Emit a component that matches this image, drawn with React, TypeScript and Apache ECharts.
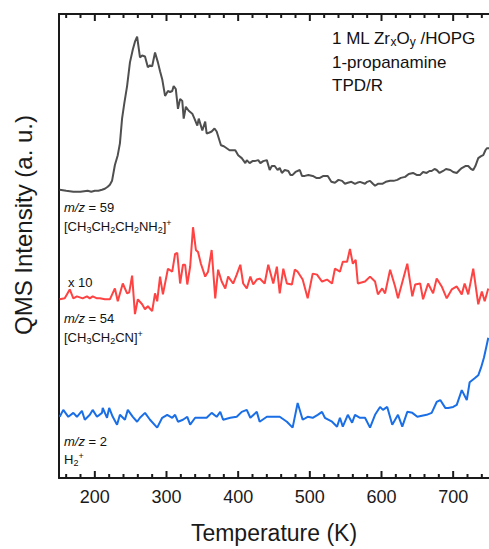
import React, { useEffect, useRef } from "react";
import * as echarts from "echarts";

const FONT = '"Liberation Sans", Arial, Helvetica, sans-serif';

// axis ticks (K)
const majorTicks = [200, 300, 400, 500, 600, 700];
const minorTicks = [160, 180, 220, 240, 260, 280, 320, 340, 360, 380, 420, 440, 460, 480, 520, 540, 560, 580, 620, 640, 660, 680, 720, 740];

// m/z = 59  [CH3CH2CH2NH2]+  (offset trace, arbitrary units)
const tempM59 = [151, 160, 170, 180, 190, 195, 200, 205, 210, 214, 218, 221, 224, 228, 232, 235, 238, 241, 245, 249, 253, 256, 259, 263, 266, 270, 274, 277, 280, 284, 288, 291, 294, 298, 302, 305, 308, 310, 313, 316, 319, 322, 324, 327, 331, 336, 339, 343, 345, 350, 354, 356, 360, 363, 367, 370, 376, 380, 384, 388, 391, 396, 400, 405, 410, 412, 416, 420, 423, 428, 431, 435, 440, 444, 447, 451, 455, 458, 461, 465, 470, 473, 476, 480, 486, 489, 493, 498, 504, 509, 514, 519, 525, 530, 535, 540, 545, 549, 553, 558, 563, 566, 570, 577, 580, 584, 588, 591, 595, 601, 606, 612, 617, 622, 627, 633, 638, 644, 649, 654, 658, 663, 667, 670, 674, 677, 681, 686, 690, 696, 700, 705, 709, 712, 717, 721, 725, 728, 731, 735, 739, 742, 745, 747, 750];
const intM59 = [292, 291, 290, 290, 291, 290, 291, 291, 292, 293, 295, 297, 301, 317, 327, 339, 364, 379, 397, 421, 434, 442, 447, 426, 428, 427, 416, 418, 417, 431, 421, 412, 404, 387, 392, 391, 392, 397, 394, 374, 384, 382, 364, 376, 372, 369, 364, 357, 364, 352, 361, 349, 350, 351, 354, 351, 337, 336, 334, 332, 332, 332, 327, 324, 319, 322, 319, 321, 321, 322, 319, 321, 322, 312, 316, 316, 312, 314, 309, 312, 311, 307, 307, 310, 312, 306, 306, 307, 306, 304, 304, 306, 306, 300, 299, 302, 301, 298, 299, 300, 298, 299, 300, 298, 300, 301, 298, 296, 298, 298, 300, 301, 301, 302, 304, 305, 308, 309, 307, 307, 310, 309, 311, 311, 313, 312, 309, 311, 313, 312, 310, 309, 312, 314, 316, 316, 313, 312, 316, 324, 326, 327, 332, 334, 334];

// m/z = 54  [CH3CH2CN]+  (x 10)
const tempM54 = [151, 158, 165, 170, 175, 179, 183, 189, 193, 197, 203, 207, 214, 221, 228, 232, 239, 245, 248, 252, 256, 260, 266, 270, 274, 280, 284, 287, 291, 295, 302, 308, 312, 315, 319, 323, 326, 329, 333, 337, 341, 344, 348, 354, 358, 363, 368, 372, 377, 382, 386, 393, 398, 403, 407, 412, 417, 421, 426, 430, 437, 442, 449, 454, 458, 463, 468, 475, 479, 483, 490, 497, 504, 510, 517, 524, 531, 535, 542, 546, 552, 556, 560, 564, 567, 577, 584, 591, 595, 601, 605, 612, 619, 623, 636, 643, 647, 654, 658, 665, 672, 677, 684, 691, 698, 705, 712, 716, 721, 728, 735, 740, 744, 749];
const intM54 = [181, 182, 191, 182, 184, 183, 182, 184, 182, 184, 182, 182, 181, 181, 192, 179, 197, 187, 188, 205, 166, 181, 176, 171, 174, 169, 187, 179, 204, 186, 212, 209, 227, 228, 197, 216, 216, 196, 214, 254, 231, 229, 217, 204, 209, 231, 182, 211, 199, 192, 204, 197, 206, 216, 197, 192, 204, 196, 201, 202, 197, 216, 197, 214, 187, 212, 197, 196, 211, 209, 201, 182, 207, 206, 199, 201, 197, 212, 209, 219, 219, 232, 217, 221, 197, 199, 204, 199, 186, 192, 187, 211, 194, 182, 217, 184, 196, 197, 181, 197, 187, 202, 194, 182, 191, 194, 186, 197, 186, 212, 176, 189, 179, 192];

// m/z = 2  H2+
const tempM2 = [151, 156, 163, 170, 175, 182, 186, 193, 197, 203, 210, 211, 217, 220, 225, 231, 235, 242, 246, 253, 259, 263, 270, 277, 287, 294, 301, 308, 312, 316, 323, 329, 333, 340, 350, 356, 363, 370, 375, 379, 389, 398, 405, 412, 417, 426, 430, 440, 449, 458, 468, 476, 483, 490, 497, 504, 511, 517, 521, 531, 538, 542, 546, 553, 559, 563, 570, 577, 584, 591, 598, 602, 608, 615, 623, 629, 636, 643, 650, 663, 670, 677, 682, 689, 693, 700, 705, 712, 719, 723, 730, 735, 739, 743, 746, 749];
const intM2 = [62, 69, 62, 66, 62, 68, 59, 64, 69, 62, 66, 71, 61, 71, 62, 54, 64, 59, 69, 62, 57, 61, 66, 59, 51, 61, 64, 61, 64, 57, 59, 62, 54, 61, 61, 61, 66, 62, 67, 59, 61, 62, 67, 69, 61, 67, 57, 62, 62, 62, 57, 51, 76, 59, 62, 61, 64, 67, 61, 57, 52, 61, 52, 64, 56, 64, 61, 61, 51, 64, 72, 69, 72, 54, 64, 52, 67, 66, 62, 64, 66, 77, 79, 71, 71, 72, 74, 89, 79, 97, 101, 104, 112, 122, 132, 142];

const Y_MIN = 0;
const Y_MAX = 470;

const pair = (xs: number[], ys: number[]) => xs.map((x, i) => [x, ys[i]]);

const C = "#111";
const AX = "#1a1a1a";
const richSmall: any = {
  n: { fontSize: 13, lineHeight: 16, fontFamily: FONT, fill: C },
  i: { fontSize: 13, lineHeight: 16, fontFamily: FONT, fill: C, fontStyle: "italic" },
  sb: { fontSize: 9, lineHeight: 9, fontFamily: FONT, fill: C, verticalAlign: "bottom" },
  sp: { fontSize: 9, lineHeight: 9, fontFamily: FONT, fill: C, verticalAlign: "top" },
};
const richBig: any = {
  n: { fontSize: 17, lineHeight: 20, fontFamily: FONT, fill: C },
  sb: { fontSize: 12, lineHeight: 12, fontFamily: FONT, fill: C, verticalAlign: "bottom" },
};

const txt = (x: number, y: number, text: string, rich: any) => ({
  type: "text",
  x,
  y,
  silent: true,
  style: { text, rich, align: "left", verticalAlign: "middle", textAlign: "left", textVerticalAlign: "middle" },
});

const tickSeries = (values: number[], yv: number, len: number, down: boolean) => ({
  type: "scatter",
  silent: true,
  clip: false,
  z: 10,
  symbol: "rect",
  symbolSize: [2, len],
  symbolOffset: [0, down ? len / 2 : -len / 2],
  itemStyle: { color: AX, opacity: 1 },
  data: values.map((v) => [v, yv]),
  tooltip: { show: false },
});

export default function App() {
  const ref = useRef<HTMLDivElement>(null);
  useEffect(() => {
    if (!ref.current) return;
    const chart = echarts.init(ref.current, null, { renderer: "svg" });
    const axisLine = { show: true, lineStyle: { color: AX, width: 2 } };
    chart.setOption({
      animation: false,
      backgroundColor: "#ffffff",
      grid: { left: 59, right: 0, top: 14, bottom: 65, containLabel: false },
      xAxis: [
        {
          type: "value",
          min: 150,
          max: 750,
          position: "bottom",
          splitLine: { show: false },
          axisLine,
          axisTick: { show: false },
          axisLabel: { show: true, customValues: majorTicks, fontSize: 18, color: AX, fontFamily: FONT, margin: 10 },
          name: "Temperature (K)",
          nameLocation: "middle",
          nameGap: 43,
          nameTextStyle: { fontSize: 23, color: AX, fontFamily: FONT },
        },
        {
          type: "value",
          min: 150,
          max: 750,
          position: "top",
          splitLine: { show: false },
          axisLine,
          axisTick: { show: false },
          axisLabel: { show: false },
        },
      ],
      yAxis: {
        type: "value",
        min: Y_MIN,
        max: Y_MAX,
        axisLine,
        axisTick: { show: false },
        axisLabel: { show: false },
        splitLine: { show: false },
      },
      series: [
        tickSeries(majorTicks, Y_MIN, 7, false),
        tickSeries(minorTicks, Y_MIN, 4, false),
        tickSeries(majorTicks, Y_MAX, 7, true),
        tickSeries(minorTicks, Y_MAX, 4, true),
        {
          name: "m/z = 59",
          type: "line",
          data: pair(tempM59, intM59),
          showSymbol: false,
          lineStyle: { color: "#4f4f4f", width: 2 },
          itemStyle: { color: "#4f4f4f" },
        },
        {
          name: "m/z = 54",
          type: "line",
          data: pair(tempM54, intM54),
          showSymbol: false,
          lineStyle: { color: "#ff4242", width: 2 },
          itemStyle: { color: "#ff4242" },
        },
        {
          name: "m/z = 2",
          type: "line",
          data: pair(tempM2, intM2),
          showSymbol: false,
          lineStyle: { color: "#1a6ee6", width: 2 },
          itemStyle: { color: "#1a6ee6" },
        },
      ],
      graphic: [
        {
          type: "text",
          x: 23,
          y: 225,
          rotation: Math.PI / 2,
          silent: true,
          style: {
            text: "QMS Intensity (a. u.)",
            fontSize: 24,
            fontFamily: FONT,
            fill: AX,
            align: "center",
            verticalAlign: "middle",
            textAlign: "center",
            textVerticalAlign: "middle",
          },
        },
        txt(332, 38, "{n|1 ML Zr}{sb|x}{n|O}{sb|y}{n| /HOPG}", richBig),
        txt(332, 62, "{n|1-propanamine}", richBig),
        txt(332, 85, "{n|TPD/R}", richBig),
        txt(64, 207, "{i|m/z}{n| = 59}", richSmall),
        txt(64, 226, "{n|[CH}{sb|3}{n|CH}{sb|2}{n|CH}{sb|2}{n|NH}{sb|2}{n|]}{sp|+}", richSmall),
        txt(68, 282, "{n|x 10}", richSmall),
        txt(64, 318, "{i|m/z}{n| = 54}", richSmall),
        txt(64, 337, "{n|[CH}{sb|3}{n|CH}{sb|2}{n|CN]}{sp|+}", richSmall),
        txt(64, 441, "{i|m/z}{n| = 2}", richSmall),
        txt(64, 459, "{n|H}{sb|2}{sp|+}", richSmall),
      ],
    });
    return () => chart.dispose();
  }, []);
  return (
    <div
      ref={ref}
      style={{ position: "fixed", left: 0, top: 0, width: 489, height: 549, background: "#fff" }}
    />
  );
}
